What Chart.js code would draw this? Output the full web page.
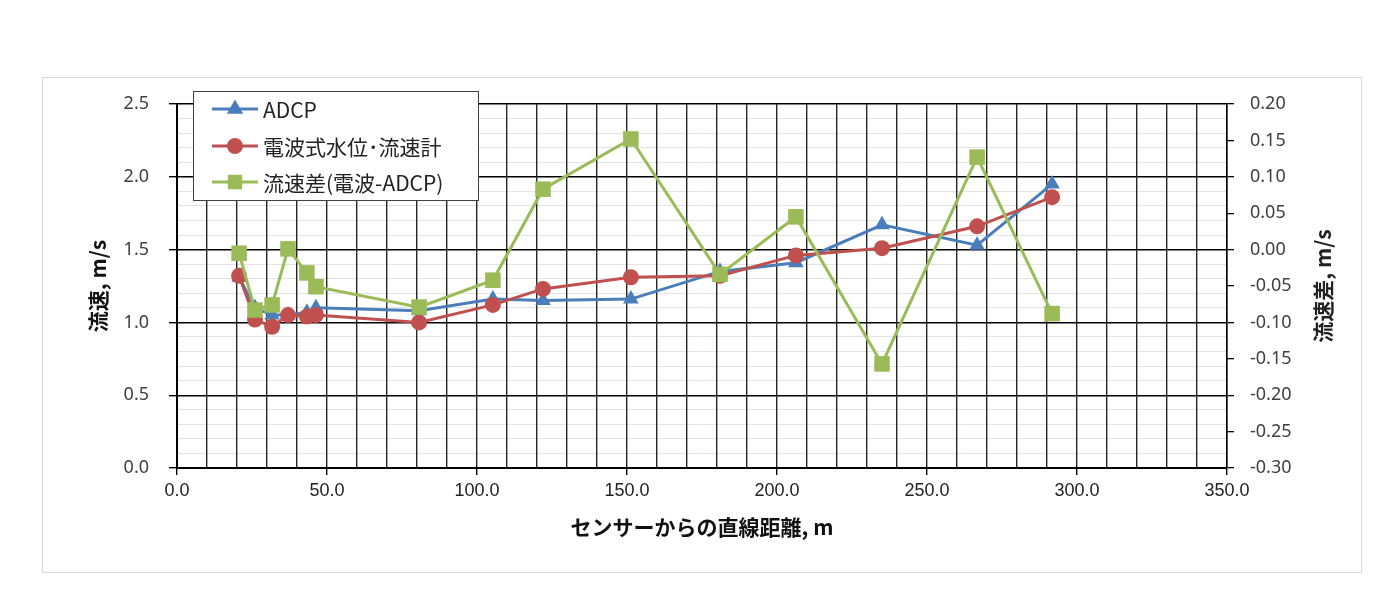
<!DOCTYPE html>
<html>
<head>
<meta charset="utf-8">
<script src="https://cdn.jsdelivr.net/npm/chart.js@4.4.1/dist/chart.umd.min.js"></script>
<style>
  html, body { margin: 0; padding: 0; background: #fff; }
  #wrap { position: relative; width: 1391px; height: 616px; }
</style>
</head>
<body>
<div id="wrap"><canvas id="chart" width="1391" height="616"></canvas></div>
<script>
// --- data ---
const distance = [20.7, 26, 31.7, 37, 43.3, 46.3, 80.7, 105.3, 122, 151.3, 181, 206.3, 235, 266.7, 291.7];
const adcpSpeed = [1.31, 1.10, 1.05, 1.05, 1.07, 1.10, 1.08, 1.16, 1.15, 1.16, 1.35, 1.41, 1.67, 1.53, 1.95];
const radioSpeed = [1.32, 1.02, 0.97, 1.05, 1.04, 1.05, 1.00, 1.12, 1.23, 1.31, 1.32, 1.46, 1.51, 1.66, 1.86];
const speedDiff = [-0.005, -0.083, -0.076, 0.001, -0.032, -0.051, -0.079, -0.042, 0.083, 0.152, -0.034, 0.045, -0.157, 0.127, -0.088];

const seriesNames = ['ADCP', '電波式水位･流速計', '流速差(電波-ADCP)'];
const BLUE = '#4a7ebb', RED = '#c0504d', GREEN = '#9bbb59';

const pts = (ys) => distance.map((x, i) => ({ x: x, y: ys[i] }));
const isMult = (v, step) => Math.abs(v / step - Math.round(v / step)) < 1e-6;

// frame round the whole chart, like the Excel chart area
const framePlugin = {
    id: 'frame',
    beforeDraw(chart) {
        const c = chart.ctx;
        c.save();
        c.strokeStyle = '#d9d9d9';
        c.lineWidth = 1;
        c.strokeRect(42.5, 77.5, 1319, 495);
        c.restore();
    }
};

// right title reads bottom to top, as in the reference
const rightTitlePlugin = {
    id: 'rightTitle',
    afterDraw(chart) {
        const c = chart.ctx;
        const a = chart.chartArea;
        c.save();
        c.translate(1323, (a.top + a.bottom) / 2);
        c.rotate(-Math.PI / 2);
        c.font = 'bold 21px "Noto Sans CJK JP"';
        c.fillStyle = '#222';
        c.textAlign = 'center';
        c.textBaseline = 'middle';
        c.fillText('流速差, m/s', 0, 0);
        c.restore();
    }
};

// legend box floating over the plot, top left
const legendPlugin = {
    id: 'boxLegend',
    afterDraw(chart) {
        const c = chart.ctx;
        c.save();
        c.fillStyle = '#fff';
        c.fillRect(193, 91, 285, 109);
        c.strokeStyle = '#404040';
        c.lineWidth = 1;
        c.strokeRect(193.5, 91.5, 285, 109);
        const rows = [109, 146, 182];
        const order = [2, 1, 0];
        rows.forEach((y, i) => {
            const ds = chart.data.datasets[order[i]];
            c.strokeStyle = ds.borderColor;
            c.lineWidth = 3;
            c.beginPath();
            c.moveTo(212, y);
            c.lineTo(258, y);
            c.stroke();
            Chart.helpers.drawPoint(c, {
                pointStyle: ds.pointStyle,
                radius: ds.pointStyle === 'rect' ? 8 : 6.5,
                borderWidth: 1,
                rotation: 0
            }, 235, y);
            c.fillStyle = ds.backgroundColor;
            c.strokeStyle = ds.backgroundColor;
            c.fill();
            c.fillStyle = '#222';
            c.font = '21px "Noto Sans CJK JP"';
            c.textAlign = 'left';
            c.textBaseline = 'middle';
            c.fillText(ds.label, 263, y + 1);
        });
        c.restore();
    }
};

new Chart(document.getElementById('chart'), {
    type: 'line',
    data: {
        datasets: [
            {
                label: seriesNames[2], data: pts(speedDiff), yAxisID: 'y2', order: 0,
                borderColor: GREEN, backgroundColor: GREEN, borderWidth: 3,
                pointStyle: 'rect', pointRadius: 11, pointHoverRadius: 11, pointBorderWidth: 0
            },
            {
                label: seriesNames[1], data: pts(radioSpeed), yAxisID: 'y', order: 1,
                borderColor: RED, backgroundColor: RED, borderWidth: 3,
                pointStyle: 'circle', pointRadius: 8, pointHoverRadius: 8, pointBorderWidth: 0
            },
            {
                label: seriesNames[0], data: pts(adcpSpeed), yAxisID: 'y', order: 2,
                borderColor: BLUE, backgroundColor: BLUE, borderWidth: 3,
                pointStyle: 'triangle', pointRadius: 9, pointHoverRadius: 9, pointBorderWidth: 0
            }
        ]
    },
    options: {
        responsive: false,
        animation: false,
        layout: { padding: { left: 60, right: 0, top: 104, bottom: 70 } },
        plugins: { legend: { display: false }, tooltip: { enabled: false } },
        scales: {
            x: {
                type: 'linear', min: 0, max: 350,
                afterFit: (s) => { s.height = 78; },
                ticks: {
                    stepSize: 10, autoSkip: false, maxRotation: 0, padding: 5,
                    color: '#222', font: { family: '"Liberation Sans Narrow", "Liberation Sans"', size: 18 },
                    callback: (v) => isMult(v, 50) ? v.toFixed(1) : ''
                },
                grid: {
                    z: -1,
                    color: '#262626', lineWidth: 1.4, tickLength: 7,
                    tickColor: (ctx) => isMult(ctx.tick.value, 50) ? '#000' : 'rgba(0,0,0,0)'
                },
                border: { display: true, color: '#000', width: 2 },
                title: {
                    display: true, text: 'センサーからの直線距離, m', color: '#111',
                    font: { family: '"Noto Sans CJK JP"', size: 21, weight: 'bold' },
                    padding: { top: 0, bottom: 6 }
                }
            },
            y: {
                position: 'left', min: 0, max: 2.5,
                afterFit: (s) => { s.width = 117; },
                ticks: {
                    stepSize: 0.1, autoSkip: false, padding: 20,
                    color: '#404040', font: { family: '"Noto Sans"', size: 18 },
                    callback: (v) => isMult(v, 0.5) ? v.toFixed(1) : ''
                },
                grid: {
                    z: -2,
                    tickLength: 8,
                    color: (ctx) => isMult(ctx.tick.value, 0.5) ? '#000' : '#e3e3e3',
                    lineWidth: (ctx) => isMult(ctx.tick.value, 0.5) ? 1.4 : 1,
                    tickColor: (ctx) => isMult(ctx.tick.value, 0.5) ? '#000' : 'rgba(0,0,0,0)'
                },
                border: { display: true, color: '#000', width: 2 },
                title: {
                    display: true, text: '流速, m/s', color: '#111',
                    font: { family: '"Noto Sans CJK JP"', size: 21, weight: 'bold' },
                    padding: { top: 25, bottom: 0 }
                }
            },
            y2: {
                position: 'right', min: -0.3, max: 0.2,
                afterFit: (s) => { s.width = 164; },
                ticks: {
                    stepSize: 0.05, autoSkip: false, padding: 16,
                    color: '#404040', font: { family: '"Noto Sans"', size: 18 },
                    callback: (v) => v.toFixed(2)
                },
                grid: { drawOnChartArea: false, tickLength: 7, tickColor: '#000', lineWidth: 1.3 },
                border: { display: true, color: '#000', width: 1.5 }
            }
        }
    },
    plugins: [framePlugin, legendPlugin, rightTitlePlugin]
});
</script>
</body>
</html>
